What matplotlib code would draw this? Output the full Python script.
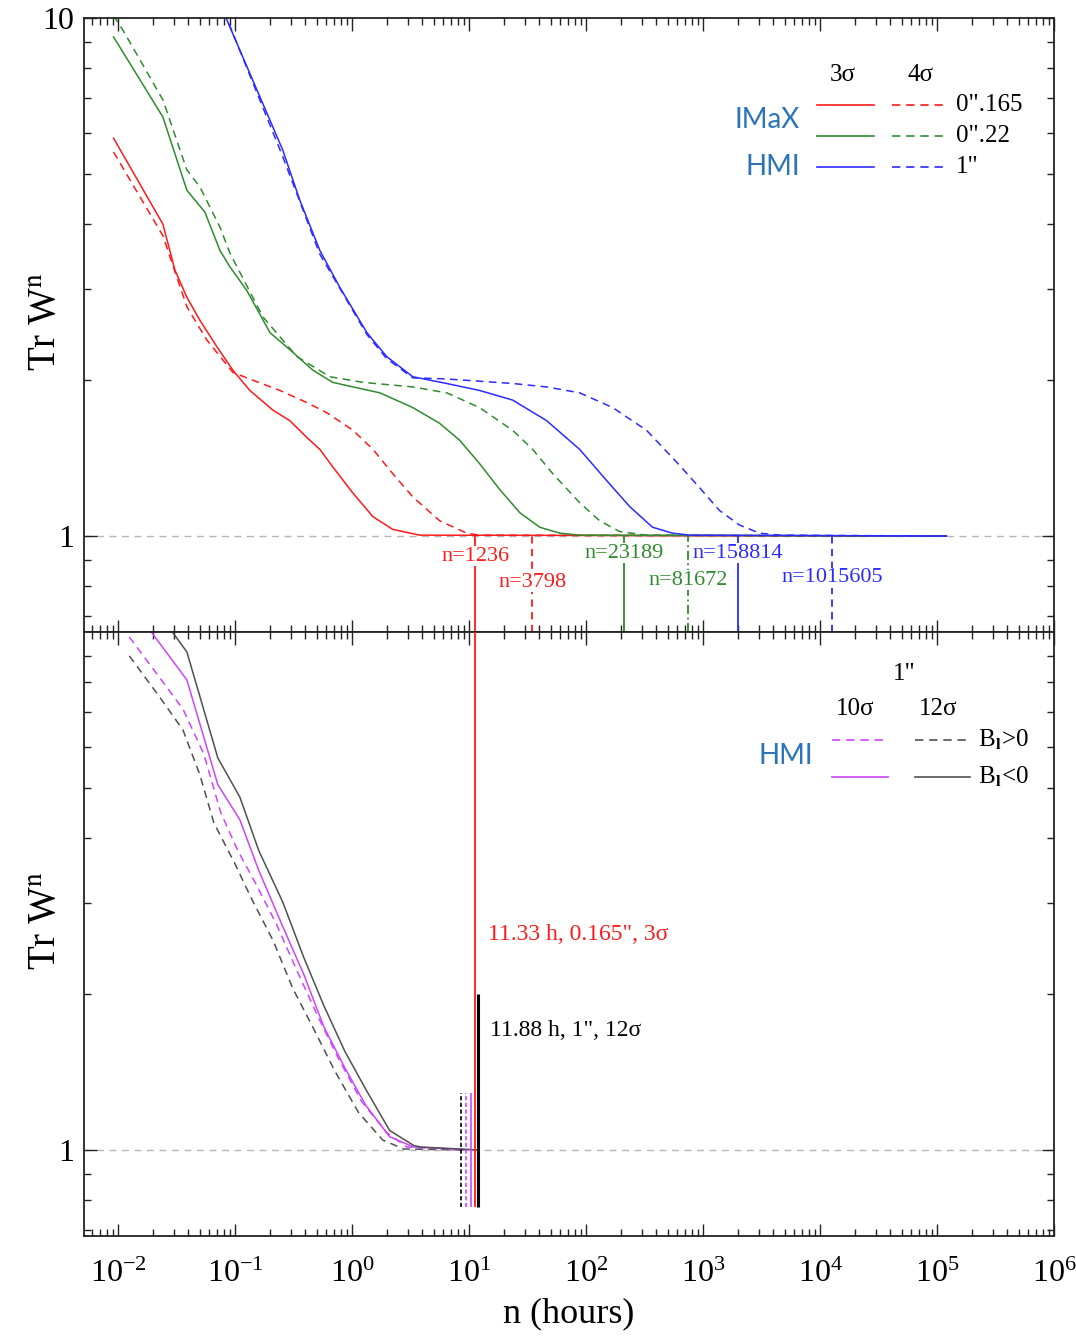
import numpy as np
import matplotlib.pyplot as plt
from matplotlib.ticker import LogLocator, NullFormatter, FixedLocator, FixedFormatter, LogFormatterMathtext

plt.rcParams['font.family'] = ['Liberation Serif', 'DejaVu Serif']
plt.rcParams['mathtext.fontset'] = 'stix'
plt.rcParams['axes.unicode_minus'] = False

RED, GREEN, BLUE = '#ff1a1a', '#2e8b2e', '#2b2bff'
MAG, GRAY = '#cc44ff', '#505050'
TXTBLUE = '#2e75b6'
DASH = (0, (5, 3.5))

# ---- top panel: Tr W^n vs time (hours); IMaX 0".165, 0".22 and HMI 1"; 3 sigma solid, 4 sigma dashed
h_r3 = [0.00917, 0.0242, 0.0307, 0.0388, 0.0501, 0.070, 0.0959, 0.134, 0.211, 0.294, 0.411,
        0.531, 0.685, 1.02, 1.51, 2.23, 3.80, 1.2e5]
w_r3 = [5.86, 4.00, 3.26, 2.89, 2.61, 2.32, 2.09, 1.91, 1.75, 1.67, 1.55,
        1.47, 1.36, 1.21, 1.09, 1.03, 1.004, 1.0]
h_r4 = [0.00917, 0.0242, 0.0388, 0.0575, 0.0959, 0.126, 0.242, 0.411, 0.609, 1.02, 1.51,
        2.23, 3.31, 5.62, 9.56, 12.3, 1.2e5]
w_r4 = [5.51, 3.80, 2.77, 2.39, 2.07, 2.02, 1.91, 1.81, 1.73, 1.60, 1.47,
        1.32, 1.19, 1.07, 1.013, 1.004, 1.0]

h_g3 = [0.00917, 0.0242, 0.0388, 0.0553, 0.0743, 0.0904, 0.126, 0.199, 0.294, 0.463, 0.685,
        1.02, 1.73, 3.31, 5.62, 8.34, 12.3, 18.3, 27.1, 40.2, 59.6, 88.2, 1.2e5]
w_g3 = [9.19, 6.44, 4.65, 4.22, 3.56, 3.31, 2.98, 2.47, 2.29, 2.09, 1.98,
        1.94, 1.89, 1.77, 1.65, 1.53, 1.38, 1.23, 1.11, 1.04, 1.013, 1.004, 1.0]
h_g4 = [0.00917, 0.011, 0.0242, 0.0388, 0.0501, 0.0743, 0.0904, 0.173, 0.338, 0.646, 1.24,
        3.31, 6.45, 12.3, 23.6, 35.0, 51.9, 88.2, 131, 194, 329, 1.2e5]
w_g4 = [10.1, 9.48, 6.95, 5.09, 4.72, 3.95, 3.52, 2.65, 2.22, 2.03, 1.98,
        1.94, 1.89, 1.77, 1.60, 1.47, 1.32, 1.16, 1.07, 1.02, 1.004, 1.0]

h_b3 = [0.080, 0.0853, 0.256, 0.358, 0.531, 0.787, 1.34, 1.98, 3.31, 6.45, 12.3,
        23.6, 46.1, 88.2, 150, 236, 370, 549, 767, 1.2e5]
w_b3 = [10.3, 9.91, 5.56, 4.45, 3.56, 3.02, 2.47, 2.22, 2.03, 1.97, 1.91,
        1.83, 1.67, 1.47, 1.28, 1.14, 1.04, 1.013, 1.004, 1.0]
h_b4 = [0.083, 0.088, 0.256, 0.531, 1.34, 1.98, 3.31, 6.45, 23.6, 46.1, 88.2,
        169, 329, 630, 934, 1384, 2050, 3040, 4500, 1.2e5]
w_b4 = [10.3, 9.8, 5.40, 3.50, 2.45, 2.20, 2.02, 2.01, 1.97, 1.94, 1.89,
        1.77, 1.60, 1.37, 1.24, 1.12, 1.05, 1.013, 1.004, 1.0]

# convergence steps n and cadence (s)
mark_n = [1236, 3798, 23189, 81672, 158814, 1015605]
mark_cad = [33, 33, 33, 33, 45, 45]
mark_lab_y = [0.915, 0.815, 0.927, 0.822, 0.927, 0.83]

# ---- bottom panel: HMI 1", 10 sigma (magenta) / 12 sigma (gray), B_l>0 dashed, B_l<0 solid
h_m_pos = [0.0125, 0.0359, 0.0542, 0.0758, 0.106, 0.148, 0.224, 0.338, 0.511, 0.757,
           1.21, 1.98, 2.94, 9.37]
w_m_pos = [9.78, 7.10, 5.81, 4.47, 3.78, 3.29, 2.74, 2.22, 1.81, 1.51,
           1.24, 1.08, 1.013, 1.0]
h_m_neg = [0.0185, 0.0195, 0.0388, 0.0714, 0.110, 0.160, 0.256, 0.388, 0.574, 0.869,
           1.31, 2.10, 3.37, 10.5]
w_m_neg = [10.2, 9.96, 8.08, 5.07, 4.34, 3.46, 2.70, 2.18, 1.73, 1.44,
           1.22, 1.06, 1.013, 1.0]
h_k_pos = [0.0125, 0.0224, 0.0359, 0.0501, 0.066, 0.0998, 0.139, 0.211, 0.312, 0.472,
           0.713, 1.14, 1.83, 2.77, 8.6]
w_k_pos = [8.99, 7.52, 6.47, 5.30, 4.28, 3.57, 3.05, 2.54, 2.05, 1.71,
           1.42, 1.18, 1.045, 1.004, 1.0]
h_k_neg = [0.027, 0.0295, 0.0388, 0.0714, 0.110, 0.160, 0.256, 0.388, 0.574, 0.869,
           1.31, 2.10, 3.37, 3.87, 11.88]
w_k_neg = [10.3, 9.96, 9.15, 5.71, 4.80, 3.78, 3.01, 2.35, 1.90, 1.55,
           1.31, 1.09, 1.02, 1.013, 1.0]

hmi_mark_h = [8.6, 9.37, 10.5, 11.88]
hmi_mark_top = [1.29, 1.29, 1.29, 2.0]
hmi_mark_bot = 0.776

x_decades = [1e-2, 1e-1, 1e0, 1e1, 1e2, 1e3, 1e4, 1e5, 1e6]


def style(ax, ylo, yticks, ylabels):
    ax.set_xscale('log')
    ax.set_yscale('log')
    ax.set_xlim(10 ** -2.29, 1e6)
    ax.set_ylim(ylo, 10)
    ax.xaxis.set_major_locator(FixedLocator(x_decades))
    ax.xaxis.set_major_formatter(LogFormatterMathtext())
    ax.xaxis.set_minor_locator(LogLocator(base=10, subs=np.arange(2, 10), numticks=20))
    ax.xaxis.set_minor_formatter(NullFormatter())
    ax.yaxis.set_major_locator(FixedLocator(yticks))
    ax.yaxis.set_major_formatter(FixedFormatter(ylabels))
    ax.yaxis.set_minor_locator(LogLocator(base=10, subs=np.arange(2, 10), numticks=20))
    ax.yaxis.set_minor_formatter(NullFormatter())
    ax.tick_params(which='both', direction='in', top=True, right=True, width=1.0, color='#222222')
    ax.tick_params(which='major', length=9, labelsize=23)
    ax.tick_params(which='minor', length=5)
    ax.tick_params(axis='x', pad=17)
    ax.tick_params(axis='y', pad=7)
    for s in ax.spines.values():
        s.set_linewidth(1.3)
        s.set_color('#222222')
    ax.axhline(1, color='#b5b5b5', lw=1.0, ls=(0, (5, 4)), zorder=1)


fig = plt.figure(figsize=(10.76, 13.40), dpi=100)
ax1 = fig.add_axes([0.0781, 0.5284, 0.9015, 0.4582])
ax2 = fig.add_axes([0.0781, 0.0776, 0.9015, 0.4508])

# ---------------- top panel
ax1.plot(h_r3, w_r3, color=RED, lw=1.1)
ax1.plot(h_r4, w_r4, color=RED, lw=1.1, ls=DASH)
ax1.plot(h_g3, w_g3, color=GREEN, lw=1.1)
ax1.plot(h_g4, w_g4, color=GREEN, lw=1.1, ls=DASH)
ax1.plot(h_b3, w_b3, color=BLUE, lw=1.1)
ax1.plot(h_b4, w_b4, color=BLUE, lw=1.1, ls=DASH)
style(ax1, 0.653, [1, 10], ['1', '10'])
ax1.tick_params(labelbottom=False)

mark_h = [n * c / 3600.0 for n, c in zip(mark_n, mark_cad)]
mark_col = [RED, RED, GREEN, GREEN, BLUE, BLUE]
mark_ls = ['-', (0, (4, 3)), '-', (0, (5, 2, 1, 2)), '-', (0, (4, 3))]
for h, n, c, ls, ly in zip(mark_h, mark_n, mark_col, mark_ls, mark_lab_y):
    ax1.vlines(h, 0.653, 1.0, color=c, lw=1.3, linestyles=[ls], zorder=2)
    ax1.text(h, ly, f'n={n}', color=c, fontsize=16, ha='center', va='center', zorder=4,
             bbox=dict(facecolor='white', edgecolor='none', pad=0.5))

t1 = ax1.transAxes
ax1.text(0.782, 0.907, '3σ', transform=t1, ha='center', va='center', fontsize=18)
ax1.text(0.862, 0.907, '4σ', transform=t1, ha='center', va='center', fontsize=18)
leg_labels = ['0".165', '0".22', '1"']
for c, y, lab in zip([RED, GREEN, BLUE], [0.858, 0.808, 0.757], leg_labels):
    ax1.plot([0.7557, 0.8144], [y, y], transform=t1, color=c, lw=1.2)
    ax1.plot([0.833, 0.891], [y, y], transform=t1, color=c, lw=1.2, ls=DASH)
    ax1.text(0.899, y, lab, transform=t1, ha='left', va='center', fontsize=18)
ax1.text(0.704, 0.834, 'IMaX', transform=t1, ha='center', va='center', fontsize=20,
         color=TXTBLUE, family='Lato')
ax1.text(0.710, 0.757, 'HMI', transform=t1, ha='center', va='center', fontsize=20,
         color=TXTBLUE, family='Lato')
ax1.set_ylabel(r'Tr W$^{\rm n}$', fontsize=28)
ax1.yaxis.set_label_coords(-0.02, 0.505)

# ---------------- bottom panel
ax2.plot(h_m_pos, w_m_pos, color=MAG, lw=1.1, ls=DASH)
ax2.plot(h_k_pos, w_k_pos, color=GRAY, lw=1.1, ls=DASH)
ax2.plot(h_m_neg, w_m_neg, color=MAG, lw=1.1)
ax2.plot(h_k_neg, w_k_neg, color=GRAY, lw=1.1)
style(ax2, 0.682, [1], ['1'])

ax2.vlines(mark_h[0], hmi_mark_bot, 10, color=RED, lw=1.3, zorder=3)
m_col = ['black', MAG, MAG, 'black']
m_ls = [(0, (2.5, 1.5)), (0, (2.5, 1.5)), '-', '-']
m_lw = [1.2, 1.2, 1.2, 2.2]
for h, top, c, ls, lw in zip(hmi_mark_h, hmi_mark_top, m_col, m_ls, m_lw):
    ax2.vlines(h, hmi_mark_bot, top, color=c, lw=lw, linestyles=[ls], zorder=2)

ax2.text(14.5, 2.60, '11.33 h, 0.165", 3σ', color=RED, fontsize=17, ha='left', va='center')
ax2.text(15.0, 1.70, '11.88 h, 1", 12σ', color='black', fontsize=17, ha='left', va='center')

t2 = ax2.transAxes
ax2.text(0.846, 0.930, '1"', transform=t2, ha='center', va='center', fontsize=18)
ax2.text(0.795, 0.872, '10σ', transform=t2, ha='center', va='center', fontsize=18)
ax2.text(0.880, 0.872, '12σ', transform=t2, ha='center', va='center', fontsize=18)
for y, ls, lab in zip([0.821, 0.760], [DASH, '-'], [r'B$_{\mathbf{l}}$>0', r'B$_{\mathbf{l}}$<0']):
    ax2.plot([0.771, 0.829], [y, y], transform=t2, color=MAG, lw=1.2, ls=ls)
    ax2.plot([0.857, 0.913], [y, y], transform=t2, color=GRAY, lw=1.2, ls=ls)
    ax2.text(0.922, y, lab, transform=t2, ha='left', va='center', fontsize=18)
ax2.text(0.723, 0.795, 'HMI', transform=t2, ha='center', va='center', fontsize=20,
         color=TXTBLUE, family='Lato')

ax2.set_ylabel(r'Tr W$^{\rm n}$', fontsize=28)
ax2.yaxis.set_label_coords(-0.02, 0.523)
ax2.set_xlabel('n (hours)', fontsize=26, labelpad=6)

for ax in (ax1, ax2):
    ax.set_xlim(10 ** -2.29, 1e6)
ax1.set_ylim(0.653, 10)
ax2.set_ylim(0.682, 10)

fig.savefig('out.png', dpi=100)
